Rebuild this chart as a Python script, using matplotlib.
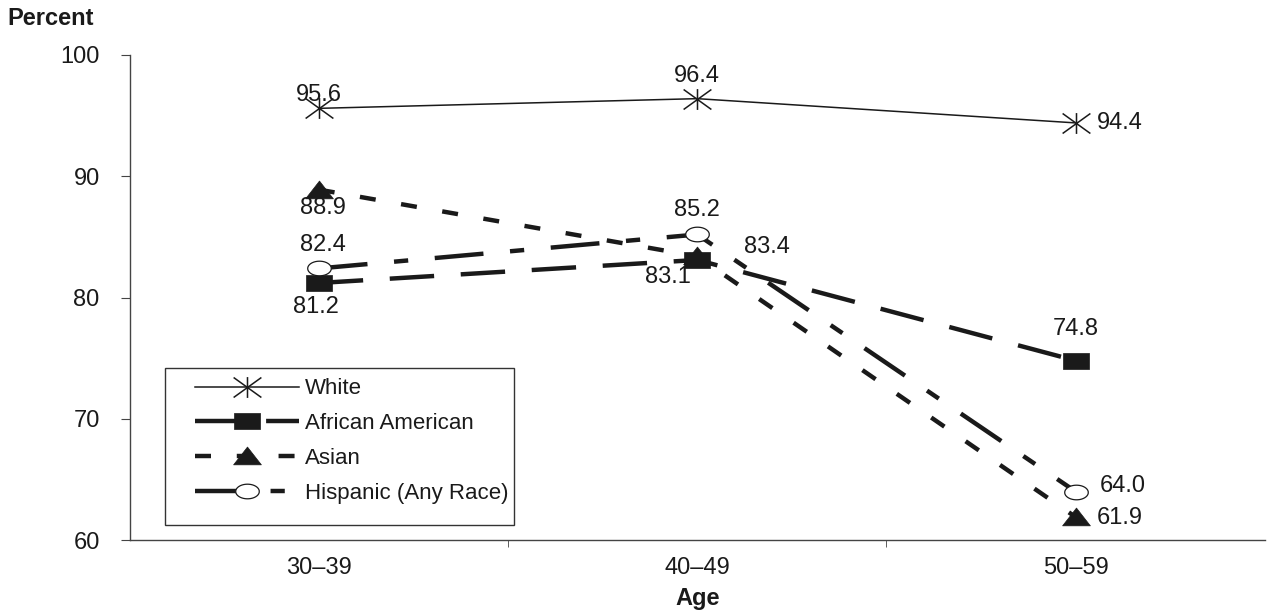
import numpy as np
import matplotlib
matplotlib.use("Agg")
from matplotlib import pyplot as plt
from matplotlib.path import Path
from matplotlib.patches import Rectangle

plt.rcParams['font.family'] = ['Liberation Sans', 'DejaVu Sans']

# data
ages = ["30\u201339", "40\u201349", "50\u201359"]
white = [95.6, 96.4, 94.4]
african_american = [81.2, 83.1, 74.8]
asian = [88.9, 83.4, 61.9]
hispanic = [82.4, 85.2, 64.0]

# label offsets (points) for each value
white_off = [(0, 9.5), (0, 16), (32, 0)]
aa_off = [(-2, -17), (-21, -12), (0, 23)]
asian_off = [(3, -13.5), (50, 7), (32, -1)]
hisp_off = [(3, 17), (0, 17.5), (34, 4)]

INK = '#1a1a1a'

# custom marker shapes (the originals are wider than tall)
asterisk = Path([(0, -0.75), (0, 0.75), (-1, -0.72), (1, 0.72), (-1, 0.72), (1, -0.72)],
                [Path.MOVETO, Path.LINETO] * 3)
rect = Path([(-1, -0.63), (1, -0.63), (1, 0.63), (-1, 0.63), (-1, -0.63)],
            [Path.MOVETO, Path.LINETO, Path.LINETO, Path.LINETO, Path.CLOSEPOLY])
tri = Path([(-1, -0.6), (1, -0.6), (0, 0.68), (-1, -0.6)],
           [Path.MOVETO, Path.LINETO, Path.LINETO, Path.CLOSEPOLY])
t = np.linspace(0, 2 * np.pi, 40)
ellipse = Path(np.column_stack([np.cos(t), 0.62 * np.sin(t)]))

fig = plt.figure(figsize=(12.7, 6.11), dpi=100)
ax = fig.add_axes([0.102, 0.116, 0.894, 0.794])
x = np.arange(len(ages))

ax.plot(x, white, color=INK, lw=1.1, marker=asterisk, ms=20, mew=1.1,
        label='White', zorder=3)
ax.plot(x, african_american, color=INK, lw=3.2, dashes=(10, 6),
        marker=rect, ms=19, mew=0.5, label='African American', zorder=4)
ax.plot(x, asian, color=INK, lw=3.2, dashes=(3.6, 5.8),
        marker=tri, ms=20, mew=0.5, label='Asian', zorder=3)
ax.plot(x, hispanic, color=INK, lw=3.2, dashes=(11, 6, 3.2, 6),
        marker=ellipse, ms=17, mfc='white', mec=INK, mew=0.9,
        label='Hispanic (Any Race)', zorder=5)

for ys, offs in [(white, white_off), (african_american, aa_off),
                 (asian, asian_off), (hispanic, hisp_off)]:
    for xi, yi, off in zip(x, ys, offs):
        ax.annotate(f"{yi:.1f}", (xi, yi), xytext=off, textcoords='offset points',
                    ha='center', va='center', fontsize=17, color=INK, zorder=6)

ax.set_xlim(-0.5, 2.5)
ax.set_ylim(60, 100)
ax.set_yticks([60, 70, 80, 90, 100])
ax.set_xticks(x)
ax.set_xticklabels(ages)
ax.set_xticks([0.5, 1.5], minor=True)
ax.tick_params(axis='x', which='major', length=0, labelsize=17, pad=12, labelcolor=INK)
ax.tick_params(axis='x', which='minor', length=5, direction='out', color='#444444')
ax.tick_params(axis='y', length=6.5, direction='out', labelsize=17, pad=15,
               color='#444444', labelcolor=INK)
for s in ['top', 'right']:
    ax.spines[s].set_visible(False)
for s in ['left', 'bottom']:
    ax.spines[s].set_color('#444444')
    ax.spines[s].set_linewidth(1.0)

ax.set_xlabel('Age', fontsize=17, fontweight='bold', labelpad=6, color=INK)
fig.text(0.006, 0.97, 'Percent', fontsize=17, fontweight='bold', ha='left',
         va='center', color=INK)

# legend: frameless entries plus a hand-placed box
leg = ax.legend(loc='center left', bbox_to_anchor=(0.0573, 0.204), fontsize=16,
                frameon=False, handlelength=4.7, handletextpad=0.25,
                borderpad=0, borderaxespad=0, labelspacing=0.62)
for txt in leg.get_texts():
    txt.set_color(INK)
ax.add_patch(Rectangle((0.0308, 0.031), 0.308, 0.324, transform=ax.transAxes,
                       fill=False, ec='#333333', lw=1.0, zorder=2))

fig.savefig('out.png', dpi=100)
